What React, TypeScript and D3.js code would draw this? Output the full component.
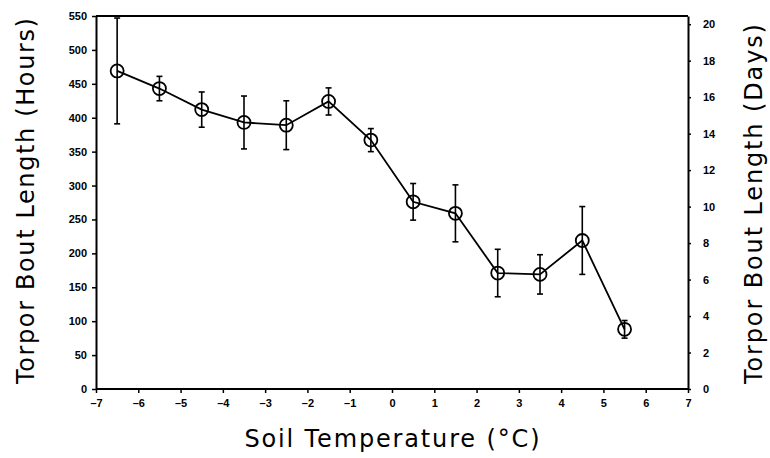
import * as d3 from "d3";
import { useEffect, useRef } from "react";

// soil temperature midpoints (deg C)
const temps = [-6.5, -5.5, -4.5, -3.5, -2.5, -1.5, -0.5, 0.5, 1.5, 2.5, 3.5, 4.5, 5.5];
// mean torpor bout length (hours)
const boutHours = [469, 443, 412, 393, 389, 424, 367, 276, 259, 171, 169, 219, 88];
// error (+/- hours)
const errHours = [78, 18, 26, 39, 36, 20, 17, 27, 42, 35, 29, 50, 13];

const xTicks = [-7, -6, -5, -4, -3, -2, -1, 0, 1, 2, 3, 4, 5, 6, 7];
const hourTicks = [0, 50, 100, 150, 200, 250, 300, 350, 400, 450, 500, 550];
const dayTicks = [0, 2, 4, 6, 8, 10, 12, 14, 16, 18, 20];

const W = 770;
const H = 458;
const left = 96, right = 688, top = 16, bottom = 389;

const App = () => {
    const ref = useRef<SVGSVGElement>(null);

    useEffect(() => {
        const svg = d3.select(ref.current);
        svg.selectAll("*").remove();
        drawChart(svg);
    }, []);

    const drawChart = (svg: any) => {
        const x = d3.scaleLinear().domain([-7, 7]).range([left, right]);
        const y = d3.scaleLinear().domain([0, 550]).range([bottom, top]);
        const yDays = d3.scaleLinear().domain([0, 20.45]).range([bottom, top]);

        const tickFont = "'Liberation Sans', Arial, sans-serif";
        const titleFont = "'DejaVu Sans', sans-serif";

        // frame: top border
        svg.append("line")
            .attr("x1", left).attr("x2", right)
            .attr("y1", top).attr("y2", top)
            .attr("stroke", "black").attr("stroke-width", 2);

        // left axis
        const gl = svg.append("g").attr("transform", `translate(${left},0)`)
            .call(d3.axisLeft(y).tickValues(hourTicks).tickSize(4).tickPadding(5).tickSizeOuter(0));
        // right axis
        const gr = svg.append("g").attr("transform", `translate(${right},0)`)
            .call(d3.axisRight(yDays).tickValues(dayTicks).tickSize(3).tickPadding(12).tickSizeOuter(0));
        // bottom axis
        const gb = svg.append("g").attr("transform", `translate(0,${bottom})`)
            .call(d3.axisBottom(x).tickValues(xTicks).tickSize(4).tickPadding(6).tickSizeOuter(0)
                .tickFormat((d: any) => (d < 0 ? "\u2013" + Math.abs(d) : String(d))));

        [gl, gr, gb].forEach((g) => {
            g.select(".domain").attr("stroke-width", 2).attr("stroke", "black");
            g.selectAll(".tick line").attr("stroke-width", 1.5).attr("stroke", "black");
            g.selectAll(".tick text")
                .attr("font-family", tickFont)
                .attr("font-weight", "bold")
                .attr("font-size", 11)
                .attr("fill", "black");
        });
        // extend bottom domain full width
        gb.select(".domain").attr("d", `M${left},0H${right}`);

        // error bars
        const eb = svg.append("g").attr("stroke", "black").attr("stroke-width", 1.6);
        temps.forEach((t, i) => {
            const hi = Math.min(550, boutHours[i] + errHours[i]);
            const lo = boutHours[i] - errHours[i];
            eb.append("line").attr("x1", x(t)).attr("x2", x(t)).attr("y1", y(hi)).attr("y2", y(lo));
            eb.append("line").attr("x1", x(t) - 3).attr("x2", x(t) + 3).attr("y1", y(hi)).attr("y2", y(hi));
            eb.append("line").attr("x1", x(t) - 3).attr("x2", x(t) + 3).attr("y1", y(lo)).attr("y2", y(lo));
        });

        // connecting line
        const line = d3.line<number>().x((d, i) => x(temps[i])).y((d) => y(d));
        svg.append("path")
            .datum(boutHours)
            .attr("d", line)
            .attr("fill", "none")
            .attr("stroke", "black")
            .attr("stroke-width", 1.8);

        // markers
        svg.append("g")
            .selectAll("circle")
            .data(boutHours)
            .join("circle")
            .attr("cx", (d: number, i: number) => x(temps[i]))
            .attr("cy", (d: number) => y(d))
            .attr("r", 6.5)
            .attr("fill", "white")
            .attr("fill-opacity", 0)
            .attr("stroke", "black")
            .attr("stroke-width", 1.8);

        // titles
        svg.append("text")
            .attr("x", 392)
            .attr("y", 447)
            .attr("text-anchor", "middle")
            .attr("font-family", titleFont)
            .attr("font-size", 24)
            .attr("textLength", 295)
            .attr("lengthAdjust", "spacing")
            .attr("fill", "black")
            .text("Soil Temperature (\u00B0C)");

        svg.append("text")
            .attr("transform", `translate(34,201) rotate(-90)`)
            .attr("text-anchor", "middle")
            .attr("font-family", titleFont)
            .attr("font-size", 24)
            .attr("textLength", 366)
            .attr("lengthAdjust", "spacing")
            .attr("fill", "black")
            .text("Torpor Bout Length (Hours)");

        svg.append("text")
            .attr("transform", `translate(762,204) rotate(-90)`)
            .attr("text-anchor", "middle")
            .attr("font-family", titleFont)
            .attr("font-size", 24)
            .attr("textLength", 360)
            .attr("lengthAdjust", "spacing")
            .attr("fill", "black")
            .text("Torpor Bout Length (Days)");
    };

    return (
        <svg ref={ref} width={W} height={H}
            style={{ position: "absolute", left: 0, top: 0, background: "white" }} />
    );
};

export default App;
